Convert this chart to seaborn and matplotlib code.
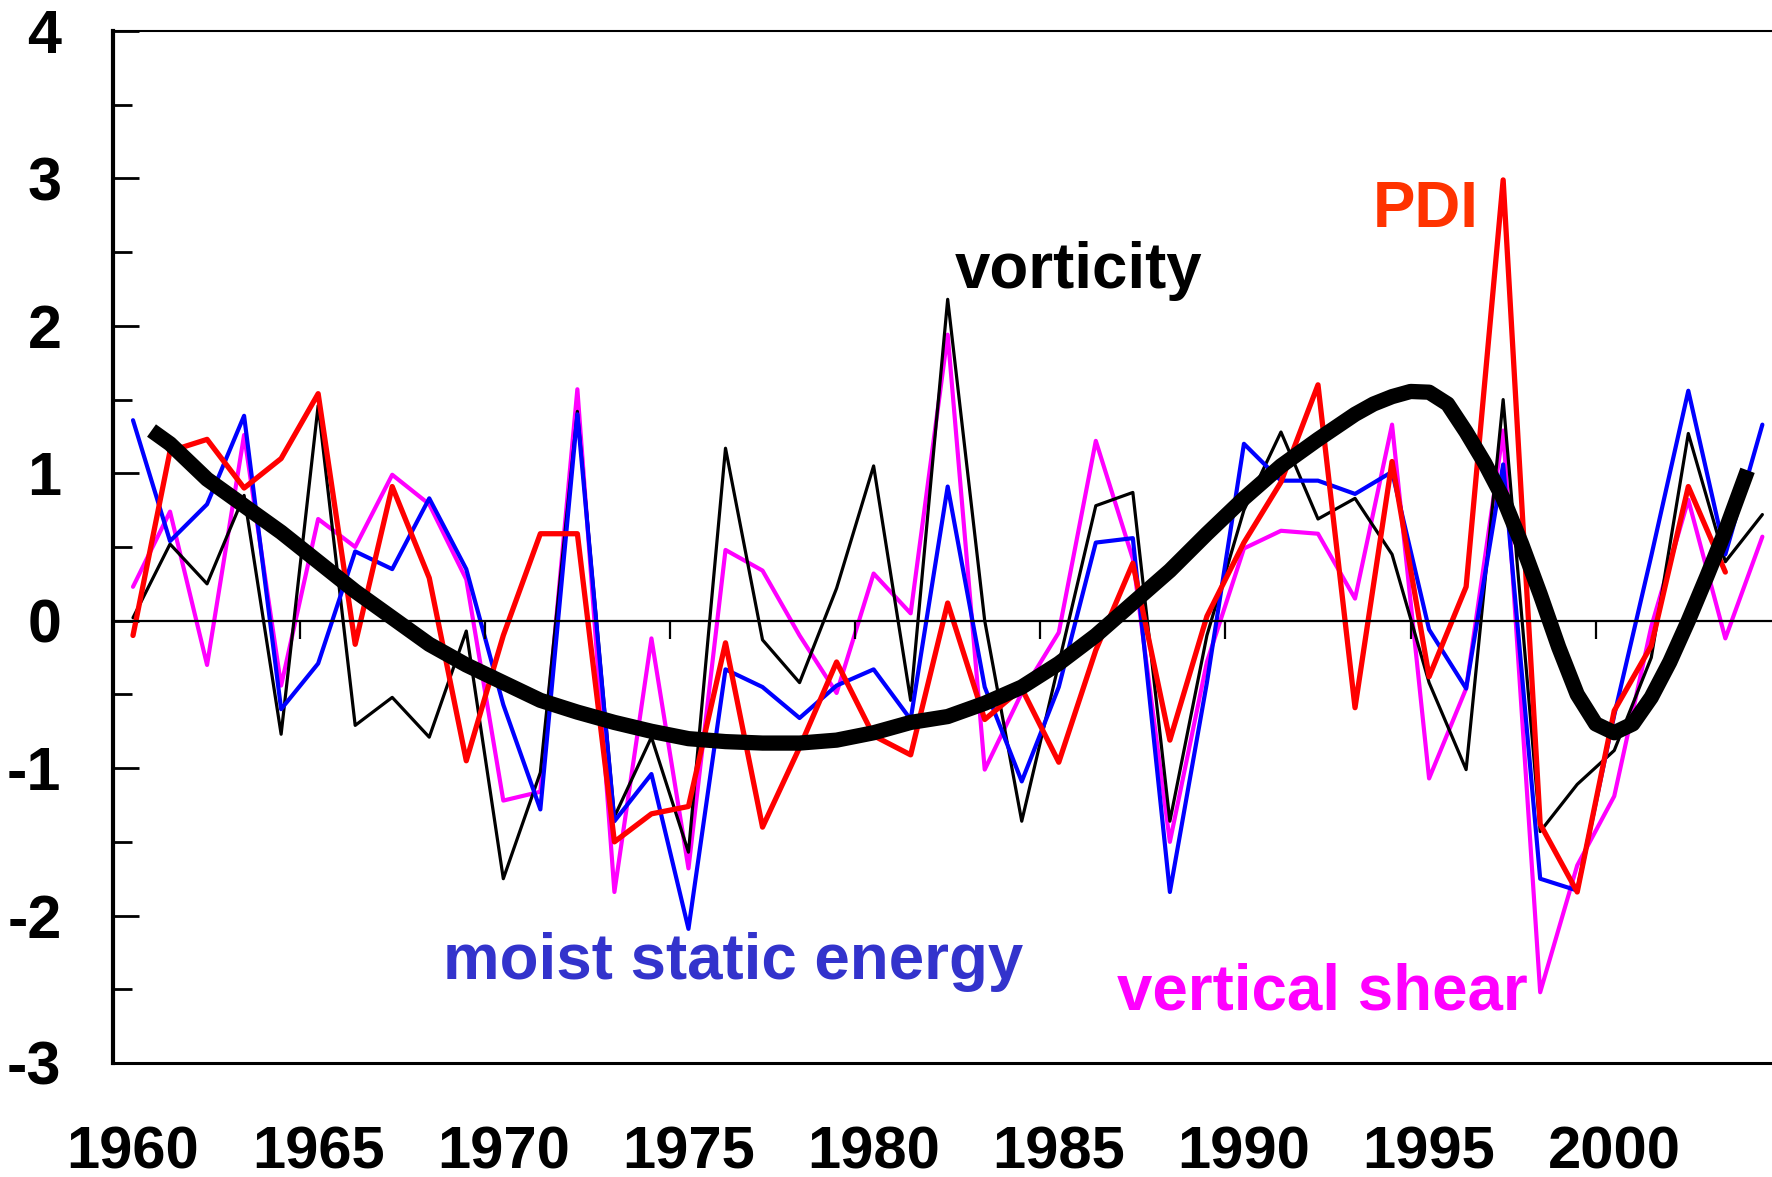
import matplotlib
matplotlib.use("Agg")
import matplotlib.pyplot as plt
import numpy as np
import pandas as pd
import seaborn as sns

# ---------------- data ----------------
years = list(range(1960, 2005))

vorticity = [0.02, 0.52, 0.25, 0.85, -0.77, 1.46, -0.71, -0.52, -0.79, -0.07,
             -1.75, -1.03, 1.42, -1.33, -0.79, -1.57, 1.17, -0.13, -0.42, 0.22,
             1.05, -0.54, 2.18, 0.00, -1.36, -0.29, 0.78, 0.87, -1.36, -0.10,
             0.75, 1.28, 0.69, 0.83, 0.45, -0.42, -1.01, 1.50, -1.43, -1.11,
             -0.88, -0.25, 1.27, 0.40, 0.72]

moist_static_energy = [1.36, 0.54, 0.79, 1.39, -0.60, -0.29, 0.47, 0.35, 0.83, 0.35,
                       -0.57, -1.28, 1.40, -1.36, -1.04, -2.09, -0.33, -0.45, -0.66, -0.44,
                       -0.33, -0.67, 0.91, -0.45, -1.09, -0.45, 0.53, 0.56, -1.84, -0.42,
                       1.20, 0.95, 0.95, 0.86, 1.01, -0.06, -0.46, 1.06, -1.75, -1.83,
                       -0.64, 0.44, 1.56, 0.45, 1.33]

vertical_shear = [0.23, 0.74, -0.30, 1.26, -0.44, 0.69, 0.50, 0.99, 0.79, 0.28,
                  -1.22, -1.16, 1.57, -1.84, -0.12, -1.68, 0.48, 0.34, -0.10, -0.49,
                  0.32, 0.05, 1.94, -1.01, -0.49, -0.08, 1.22, 0.42, -1.50, -0.28,
                  0.49, 0.61, 0.59, 0.15, 1.33, -1.07, -0.46, 1.29, -2.52, -1.66,
                  -1.19, -0.04, 0.82, -0.12, 0.57]

pdi_years = list(range(1960, 2004))
pdi = [-0.10, 1.15, 1.23, 0.90, 1.10, 1.54, -0.16, 0.91, 0.29, -0.95,
       -0.10, 0.59, 0.59, -1.50, -1.31, -1.26, -0.15, -1.40, -0.86, -0.28,
       -0.78, -0.91, 0.12, -0.67, -0.46, -0.96, -0.20, 0.39, -0.81, 0.03,
       0.53, 0.94, 1.60, -0.59, 1.08, -0.38, 0.23, 2.99, -1.38, -1.84,
       -0.61, -0.17, 0.91, 0.33]

trend_years = [1960.5, 1961, 1962, 1963, 1964, 1965, 1966, 1967, 1968, 1969,
               1970, 1971, 1972, 1973, 1974, 1975, 1976, 1977, 1978, 1979,
               1980, 1981, 1982, 1983, 1984, 1985, 1986, 1987, 1988, 1989,
               1990, 1991, 1992, 1993, 1993.5, 1994, 1994.5, 1995, 1995.5, 1996,
               1996.5, 1997, 1997.5, 1998, 1998.5, 1999, 1999.5, 2000, 2000.5,
               2001, 2001.5, 2002, 2002.5, 2003, 2003.6]
trend = [1.29, 1.20, 0.96, 0.78, 0.60, 0.40, 0.20, 0.02, -0.16, -0.30,
         -0.42, -0.54, -0.62, -0.69, -0.75, -0.80, -0.82, -0.83, -0.83, -0.81,
         -0.76, -0.69, -0.65, -0.56, -0.45, -0.29, -0.10, 0.12, 0.34, 0.59,
         0.83, 1.05, 1.23, 1.40, 1.47, 1.52, 1.555, 1.55, 1.47, 1.28,
         1.07, 0.83, 0.52, 0.18, -0.18, -0.50, -0.70, -0.76, -0.70,
         -0.52, -0.28, 0.00, 0.30, 0.61, 1.02]

y_ticks = [-3, -2, -1, 0, 1, 2, 3, 4]
y_ticklabels = ["-3", "-2", "-1", "0", "1", "2", "3", "4"]
x_ticks = [1960, 1965, 1970, 1975, 1980, 1985, 1990, 1995, 2000]
x_ticklabels = [str(v) for v in x_ticks]
zero_ticks = [1964.5, 1969.5, 1974.5, 1979.5, 1984.5, 1989.5, 1994.5, 1999.5]

# ---------------- style ----------------
sns.set_style("ticks")
plt.rcParams["font.family"] = ["Liberation Sans", "DejaVu Sans"]
plt.rcParams["font.weight"] = "bold"
plt.rcParams["axes.unicode_minus"] = False
plt.rcParams["text.color"] = "black"
plt.rcParams["axes.edgecolor"] = "black"
plt.rcParams["axes.labelcolor"] = "black"
plt.rcParams["xtick.color"] = "black"
plt.rcParams["ytick.color"] = "black"

fig = plt.figure(figsize=(17.72, 11.77), dpi=100)
ax = fig.add_axes([0.06377, 0.09686, 0.93623, 0.8768])

df_v = pd.DataFrame({"year": years, "value": vorticity})
df_m = pd.DataFrame({"year": years, "value": moist_static_energy})
df_s = pd.DataFrame({"year": years, "value": vertical_shear})
df_p = pd.DataFrame({"year": pdi_years, "value": pdi})
df_t = pd.DataFrame({"year": trend_years, "value": trend})

common = dict(x="year", y="value", ax=ax, estimator=None, sort=False, legend=False)
sns.lineplot(data=df_s, color="#FF00FF", linewidth=3.0, zorder=3, **common)
sns.lineplot(data=df_v, color="black", linewidth=2.3, zorder=4, **common)
sns.lineplot(data=df_m, color="#0000FF", linewidth=3.0, zorder=5, **common)
sns.lineplot(data=df_p, color="#FF0000", linewidth=3.8, zorder=6, **common)
sns.lineplot(data=df_t, color="black", linewidth=11, zorder=7,
             solid_capstyle="butt", solid_joinstyle="round", **common)

ax.set_xlim(1959.46, 2004.26)
ax.set_ylim(-3, 4)
ax.set_xlabel("")
ax.set_ylabel("")

ax.set_xticks(x_ticks)
ax.set_xticklabels(x_ticklabels)
ax.tick_params(axis="x", length=0, pad=45, labelsize=43, labelcolor="black")

ax.set_yticks(y_ticks)
ax.set_yticklabels(y_ticklabels)
ax.set_yticks(np.arange(-2.5, 4.0, 1.0), minor=True)
ax.tick_params(axis="y", which="major", direction="in", length=19, width=2,
               pad=37, labelsize=44, labelcolor="black", color="black")
ax.tick_params(axis="y", which="minor", direction="in", length=14, width=2,
               color="black")

for lbl in ax.get_xticklabels() + ax.get_yticklabels():
    lbl.set_fontweight("bold")

ax.spines["right"].set_visible(False)
ax.spines["top"].set_linewidth(1.5)
ax.spines["left"].set_linewidth(3.0)
ax.spines["bottom"].set_linewidth(2.2)
for s in ax.spines.values():
    s.set_color("black")

# zero line with its own small ticks
ax2 = ax.twiny()
ax2.set_xlim(ax.get_xlim())
for side in ["top", "left", "right"]:
    ax2.spines[side].set_visible(False)
ax2.spines["bottom"].set_position(("data", 0))
ax2.spines["bottom"].set_linewidth(1.6)
ax2.spines["bottom"].set_color("black")
ax2.xaxis.set_ticks_position("bottom")
ax2.set_xticks(zero_ticks)
ax2.tick_params(axis="x", direction="out", length=13, width=1.6, color="black",
                labelbottom=False, labeltop=False)
ax2.patch.set_visible(False)

# series labels
ax.text(1982.2, 2.26, "vorticity", color="black", fontsize=45.8,
        fontweight="bold", ha="left", va="baseline")
ax.text(1993.49, 2.67, "PDI", color="#FF3300", fontsize=45.8,
        fontweight="bold", ha="left", va="baseline")
ax.text(1968.37, -2.43, "moist static energy", color="#3333CC", fontsize=45.8,
        fontweight="bold", ha="left", va="baseline")
ax.text(1986.57, -2.64, "vertical shear", color="#FF00FF", fontsize=45.8,
        fontweight="bold", ha="left", va="baseline")

fig.savefig("out.png", dpi=100)
